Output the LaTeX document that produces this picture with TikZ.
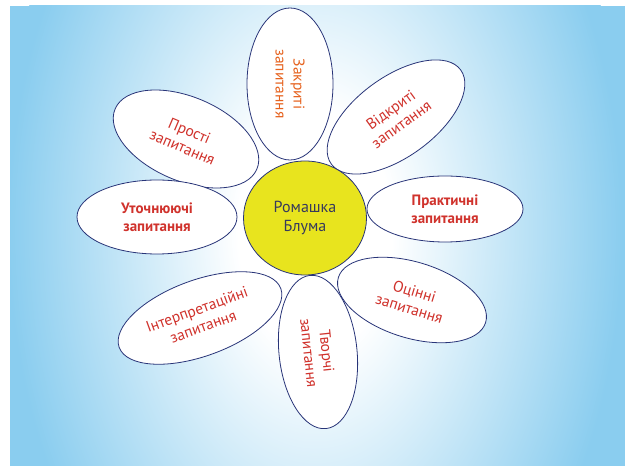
\documentclass[tikz,border=0pt]{standalone}
\usepackage{fontspec}
\setmainfont{PT Sans}
\usetikzlibrary{shapes.geometric}
\definecolor{skyc}{RGB}{138,205,239}
\definecolor{navy}{RGB}{40,52,120}
\definecolor{petred}{RGB}{208,50,44}
\definecolor{petorange}{RGB}{230,98,30}
\definecolor{yel}{RGB}{232,228,30}
\definecolor{ctext}{RGB}{55,58,92}
\pgfdeclareradialshading{bgshade}{\pgfpoint{0bp}{0bp}}{color(0bp)=(white); color(6bp)=(white); color(24bp)=(skyc); color(25bp)=(skyc); color(50bp)=(skyc)}
\tikzset{
  petal/.style={ellipse, draw=navy, line width=0.8pt, fill=white, inner sep=0pt,
    align=center, text=petred, font=\fontsize{15.5}{18}\selectfont},
  boldpetal/.style={petal, font=\fontsize{15}{18}\selectfont\bfseries},
  core/.style={ellipse, draw=navy, line width=0.8pt, fill=yel, inner sep=0pt,
    align=center, text=ctext, font=\fontsize{16}{19}\selectfont}
}
\begin{document}
\begin{tikzpicture}[x=1pt,y=1pt]
\useasboundingbox (0,0) rectangle (625,466);
\begin{scope}
  \clip (10,0) rectangle (625,460);
  \fill[skyc] (10,0) rectangle (625,460);
  \shade[shading=bgshade] (315,235) ellipse (320 and 500);
\end{scope}
% petals
\node[petal, minimum width=154, minimum height=84, rotate=-23] (prosti) at (186,327) {Прості\\запитання};
\node[petal, text=petorange, minimum width=152, minimum height=86, rotate=-90] (zakryti) at (290,382) {Закриті\\запитання};
\node[petal, minimum width=160, minimum height=80, rotate=36] (vidkryti) at (396,349) {Відкриті\\запитання};
\node[boldpetal, minimum width=156, minimum height=66] (praktychni) at (445,257) {Практичні\\запитання};
\node[petal, minimum width=154, minimum height=76, rotate=-17] (otsinni) at (412,166) {Оцінні\\запитання};
\node[petal, minimum width=154, minimum height=78, rotate=-84] (tvorchi) at (318,114) {Творчі\\запитання};
\node[petal, minimum width=172, minimum height=76, rotate=20] (interp) at (200,148) {Інтерпретаційні\\запитання};
\node[boldpetal, minimum width=160, minimum height=74] (utoch) at (157,249) {Уточнюючі\\запитання};
% centre
\node[core, minimum width=123, minimum height=114] (romashka) at (305,248) {Ромашка\\Блума};
\end{tikzpicture}
\end{document}
